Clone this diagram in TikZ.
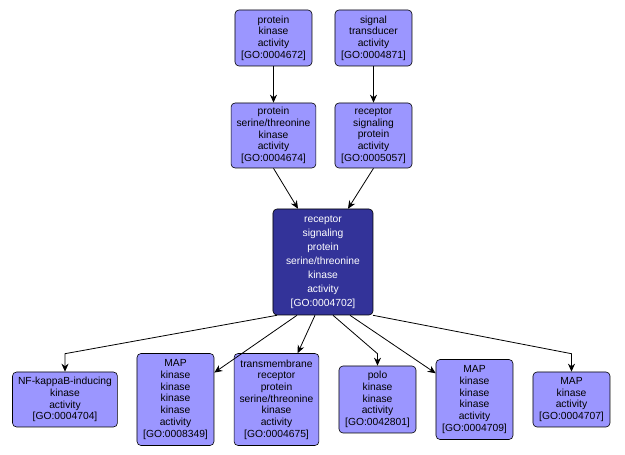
\documentclass[tikz,border=0pt]{standalone}
\usepackage{fontspec}
\setmainfont{Liberation Sans}
\usetikzlibrary{arrows.meta, positioning}
\definecolor{termfill}{HTML}{9B96FF}
\definecolor{termdark}{HTML}{333399}

\begin{document}
\begin{tikzpicture}[on grid, >={Stealth[length=8pt,width=7pt]},
    term/.style={draw, line width=0.6pt, rectangle, rounded corners=4pt, fill=termfill,
      align=center, inner xsep=5.5pt, inner ysep=2pt, minimum width=77pt,
      font=\fontsize{10.3}{11.7}\selectfont},
    focus/.style={term, fill=termdark, text=white, minimum width=100pt,
      font=\fontsize{10.3}{14}\selectfont}]
        \useasboundingbox (-323pt,262pt) rectangle (302pt,-193pt);
        \node[focus, minimum height=106pt] (rsk) {receptor\\signaling\\protein\\serine/threonine\\kinase\\activity\\{[GO:0004702]}};
        \node[term, minimum height=65pt]  (pstk) [above left=126.5pt and 49.5pt of rsk] {protein\\serine/threonine\\kinase\\activity\\{[GO:0004674]}};
        \node[term, minimum height=65pt]  (rspa) [right=100pt of pstk] {receptor\\signaling\\protein\\activity\\{[GO:0005057]}};
        \node[term, minimum height=56pt]  (pka)  [above=97.5pt of pstk] {protein\\kinase\\activity\\{[GO:0004672]}};
        \node[term, minimum height=56pt]  (std)  [above=97.5pt of rspa] {signal\\transducer\\activity\\{[GO:0004871]}};
        \node[term, minimum height=55pt]  (nfkb) [below left=137.5pt and 258pt of rsk] {NF-kappaB-inducing\\kinase\\activity\\{[GO:0004704]}};
        \node[term, minimum height=92pt]  (mkkkk) [right=110.5pt of nfkb] {MAP\\kinase\\kinase\\kinase\\kinase\\activity\\{[GO:0008349]}};
        \node[term, minimum height=92pt]  (tmr)  [right=101pt of mkkkk] {transmembrane\\receptor\\protein\\serine/threonine\\kinase\\activity\\{[GO:0004675]}};
        \node[term, minimum height=67pt]  (polo) [right=101pt of tmr] {polo\\kinase\\kinase\\activity\\{[GO:0042801]}};
        \node[term, minimum height=80pt]  (mkkk) [right=97pt of polo] {MAP\\kinase\\kinase\\kinase\\activity\\{[GO:0004709]}};
        \node[term, minimum height=55pt]  (mka)  [right=97pt of mkkk] {MAP\\kinase\\activity\\{[GO:0004707]}};
        \coordinate (rsk-in1) at ([xshift=-25pt]rsk.north);
        \coordinate (rsk-in2) at ([xshift=25pt]rsk.north);
        \coordinate (nfkb-in) at ([yshift=18pt]nfkb.north);
        \coordinate (polo-in) at ([yshift=12pt]polo.north);
        \coordinate (mka-in)  at ([yshift=18pt]mka.north);
        \path[->, line width=0.8pt]
          (pka)  edge (pstk)
          (std)  edge (rspa)
          (pstk.south) edge (rsk-in1)
          (rspa.south) edge (rsk-in2)
          ([xshift=-26pt]rsk.south) edge (mkkkk)
          ([xshift=-8pt]rsk.south)  edge (tmr)
          ([xshift=27pt]rsk.south)  edge (mkkk);
        \draw[->, line width=0.8pt] ([xshift=-46pt]rsk.south) -- (nfkb-in) -- (nfkb);
        \draw[->, line width=0.8pt] ([xshift=10pt]rsk.south) -- (polo-in) -- (polo);
        \draw[->, line width=0.8pt] ([xshift=50pt]rsk.south) -- (mka-in) -- (mka);
\end{tikzpicture}
\end{document}
